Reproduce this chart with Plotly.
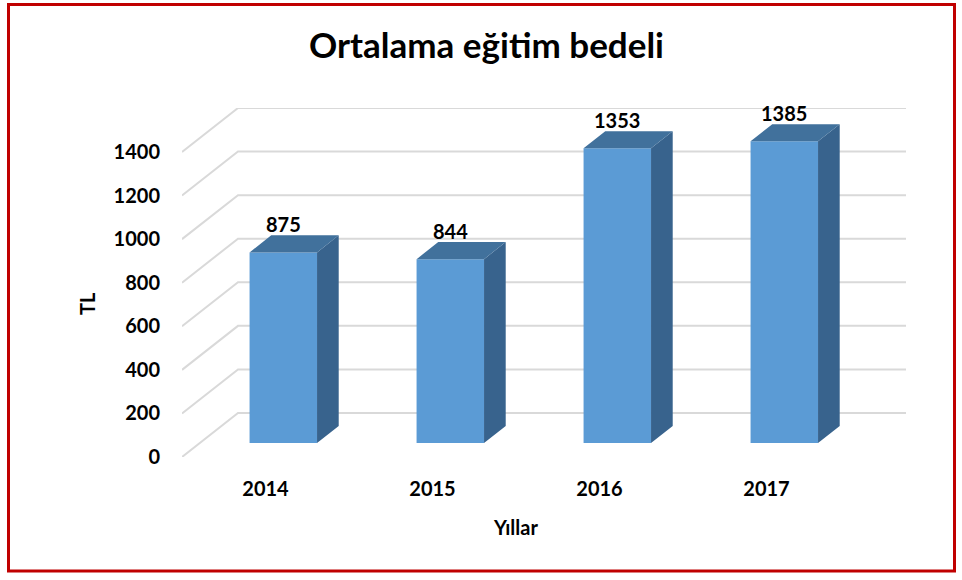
import plotly.graph_objects as go

# ---- data ----
years = ["2014", "2015", "2016", "2017"]
values = [875, 844, 1353, 1385]
y_ticks = [0, 200, 400, 600, 800, 1000, 1200, 1400]
title_text = "Ortalama eğitim bedeli"
x_title = "Yıllar"
y_title = "TL"

# ---- geometry (page pixel layout of the chart) ----
W, H = 962, 580
PL, PR, PT, PB = 182, 906, 108, 457          # plot area in page pixels
SX = 167.0                                   # px per category
SY = 305.0 / 1400                            # px per value unit
X0 = -0.5
X1 = X0 + (PR - PL) / SX
Y1 = (PB - PT) / SY
DEPTH_X = 56 / SX                            # full depth offset in category units
DEPTH_Y = 44 / SY                            # full depth offset in value units
D1, D2 = 0.318, 0.705                        # bar front/back depth fractions
BAR_W = 0.404

def px2paper_x(px):
    return (px - PL) / (PR - PL)

def py2paper_y(py):
    return (PB - py) / (PB - PT)

FONT = "Lato"
FRONT = "#5B9BD5"
TOP = "#41719C"
SIDE = "#38638D"
GRID = "#D9D9D9"

fig = go.Figure()

# front faces
xs = [i + DEPTH_X * D1 for i in range(len(years))]
b1 = DEPTH_Y * D1
b2 = DEPTH_Y * D2
ddx = DEPTH_X * (D2 - D1)
fig.add_trace(go.Bar(
    x=xs, y=values, base=b1, width=BAR_W,
    marker=dict(color=FRONT, line=dict(width=0)),
    hoverinfo="skip", showlegend=False,
))

# side and top faces
sx, sy, tx, ty = [], [], [], []
for xc, v in zip(xs, values):
    xl, xr = xc - BAR_W / 2, xc + BAR_W / 2
    sx += [xr, xr, xr + ddx, xr + ddx, xr, None]
    sy += [b1, v + b1, v + b2, b2, b1, None]
    tx += [xl, xr, xr + ddx, xl + ddx, xl, None]
    ty += [v + b1, v + b1, v + b2, v + b2, v + b1, None]
fig.add_trace(go.Scatter(x=sx, y=sy, fill="toself", fillcolor=SIDE, mode="lines",
                         line=dict(width=0, color=SIDE), hoverinfo="skip", showlegend=False))
fig.add_trace(go.Scatter(x=tx, y=ty, fill="toself", fillcolor=TOP, mode="lines",
                         line=dict(width=0, color=TOP), hoverinfo="skip", showlegend=False))

# perspective gridlines (behind bars)
shapes = []
for v in y_ticks:
    path = (f"M {X0} {v} L {X0 + DEPTH_X} {v + DEPTH_Y} "
            f"L {X0 + len(years) + DEPTH_X} {v + DEPTH_Y}")
    shapes.append(dict(type="path", xref="x", yref="y", path=path,
                       line=dict(color=GRID, width=2), layer="below"))

# red border
shapes.append(dict(type="rect", xref="paper", yref="paper",
                   x0=px2paper_x(8.5), x1=px2paper_x(954.5),
                   y0=py2paper_y(571), y1=py2paper_y(4.5),
                   line=dict(color="#C00000", width=3), layer="above"))

annotations = []
# data labels
for xc, v in zip(xs, values):
    annotations.append(dict(x=xc, y=v + b2, xref="x", yref="y", text=f"<b>{v}</b>",
                            showarrow=False, xanchor="center", yanchor="bottom", yshift=-3,
                            font=dict(family=FONT, size=20, color="black")))
# axis titles
annotations.append(dict(x=px2paper_x(515), y=py2paper_y(527), xref="paper", yref="paper",
                        text=f"<b>{x_title}</b>", showarrow=False,
                        xanchor="center", yanchor="middle",
                        font=dict(family=FONT, size=20, color="black")))
annotations.append(dict(x=px2paper_x(87), y=py2paper_y(304), xref="paper", yref="paper",
                        text=f"<b>{y_title}</b>", showarrow=False, textangle=-90,
                        xanchor="center", yanchor="middle",
                        font=dict(family=FONT, size=20, color="black")))

fig.update_layout(
    width=W, height=H,
    margin=dict(l=PL, r=W - PR, t=PT, b=H - PB, pad=0),
    paper_bgcolor="white", plot_bgcolor="white",
    title=dict(text=f"<b>{title_text}</b>", xref="container", yref="container",
               x=486.5 / W, y=1 - 46 / H, xanchor="center", yanchor="middle",
               font=dict(family=FONT, size=35, color="black")),
    xaxis=dict(range=[X0, X1], tickvals=list(range(len(years))), ticktext=[f"<b>{y}</b>" for y in years],
               showgrid=False, zeroline=False, showline=False, ticks="",
               ticklabelstandoff=18, tickfont=dict(family=FONT, size=20, color="black"),
               fixedrange=True),
    yaxis=dict(range=[0, Y1], tickvals=y_ticks, ticktext=[f"<b>{t}</b>" for t in y_ticks],
               showgrid=False, zeroline=False, showline=False, ticks="",
               ticklabelstandoff=21, tickfont=dict(family=FONT, size=20, color="black"),
               fixedrange=True),
    shapes=shapes, annotations=annotations,
    showlegend=False,
)

fig.write_html("out.html", config={"displayModeBar": False},
               post_script="document.body.style.margin='0';")
